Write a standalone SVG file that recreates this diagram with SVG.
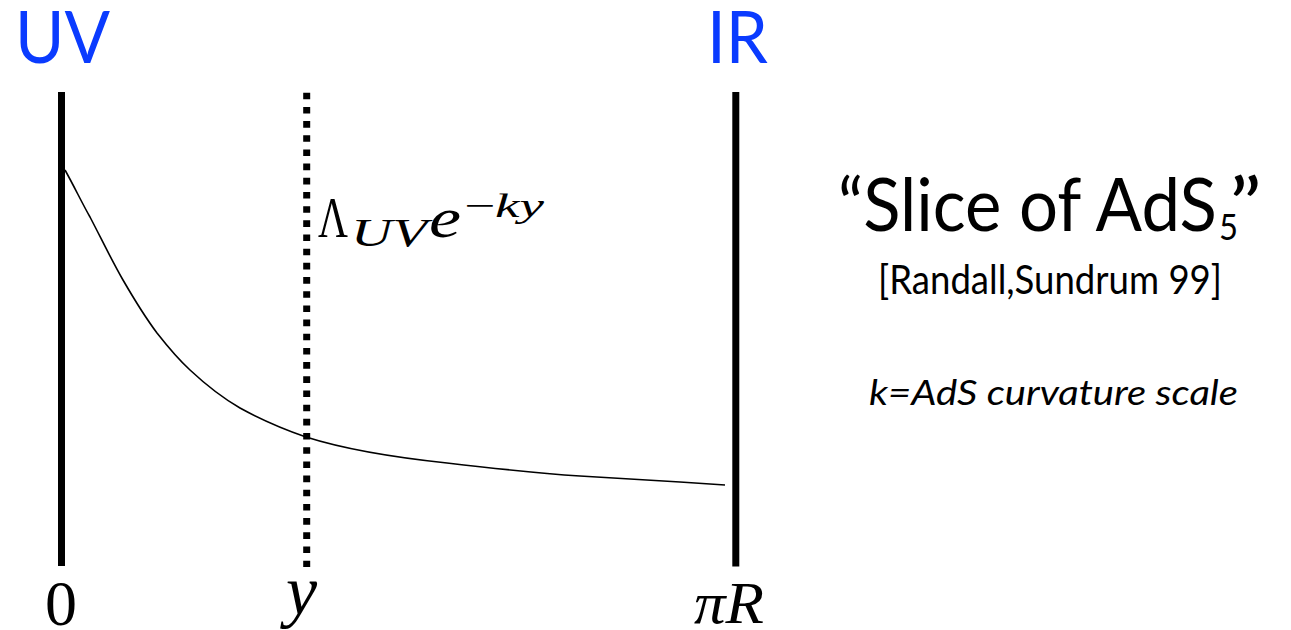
<svg xmlns="http://www.w3.org/2000/svg" width="1291" height="630" viewBox="0 0 1291 630">
<style>
.brane{stroke:#000;stroke-width:7;fill:none}
.dots{stroke:#000;stroke-width:7;fill:none;stroke-dasharray:6.6 7.58}
.curve{stroke:#000;stroke-width:1.6;fill:none}
.blue{font-family:Lato,"Open Sans","Liberation Sans",sans-serif;font-size:71px;fill:#0a3bff}
.math{font-family:"Liberation Serif","DejaVu Serif",serif;fill:#000}
.it{font-style:italic}
.sans{font-family:Lato,"Open Sans","Liberation Sans",sans-serif;fill:#000}
</style>
<rect width="1291" height="630" fill="#fff"/>
<g id="uv-brane">
<line class="brane" x1="61.5" y1="92" x2="61.5" y2="566"/>
<text class="blue" x="15" y="63" textLength="95" lengthAdjust="spacingAndGlyphs">UV</text>
<text class="math" x="45" y="625" font-size="64">0</text>
</g>
<g id="slice-y">
<line class="dots" x1="306.7" y1="92.7" x2="306.7" y2="567"/>
<text class="math" x="318" y="237" font-size="58"><tspan textLength="30" lengthAdjust="spacingAndGlyphs">Λ</tspan><tspan class="it" x="351" y="246" font-size="40" textLength="76" lengthAdjust="spacingAndGlyphs">UV</tspan><tspan class="it" x="429" y="237" textLength="32" lengthAdjust="spacingAndGlyphs">e</tspan><tspan x="464" y="217" font-size="34" textLength="80" lengthAdjust="spacingAndGlyphs">−<tspan class="it">ky</tspan></tspan></text>
<text class="math it" x="286" y="614" font-size="70">y</text>
</g>
<g id="ir-brane">
<line class="brane" x1="735.8" y1="92" x2="735.8" y2="566.5"/>
<text class="blue" x="707" y="63" textLength="61" lengthAdjust="spacingAndGlyphs">IR</text>
<text class="math it" x="694" y="623" font-size="60" textLength="70" lengthAdjust="spacingAndGlyphs">πR</text>
</g>
<g id="connectors">
<path class="curve" d="M65,170 C75,188 82,203 90,217 C101,238 112,261 123,280 C134,299 145,317 157,333 C168,347 178,359 190,370 C205,384 221,397 240,408 C260,419 283,429 306,437 C350,451 400,458 447,463 C490,468 535,473 580,476 C615,478 650,480 680,482 C695,483 710,484 725,485"/>
</g>
<g id="title">
<text class="sans" x="838" y="231" font-size="74"><tspan textLength="379" lengthAdjust="spacingAndGlyphs">“Slice of AdS</tspan><tspan x="1219" y="240" font-size="36" textLength="19" lengthAdjust="spacingAndGlyphs">5</tspan><tspan x="1229" y="231" textLength="33" lengthAdjust="spacingAndGlyphs">”</tspan></text>
</g>
<g id="citation">
<text class="sans" x="878" y="294" font-size="40" textLength="344" lengthAdjust="spacingAndGlyphs">[Randall,Sundrum 99]</text>
</g>
<g id="note">
<text class="sans it" x="869" y="405" font-size="35" textLength="369" lengthAdjust="spacingAndGlyphs">k=AdS curvature scale</text>
</g>
</svg>
